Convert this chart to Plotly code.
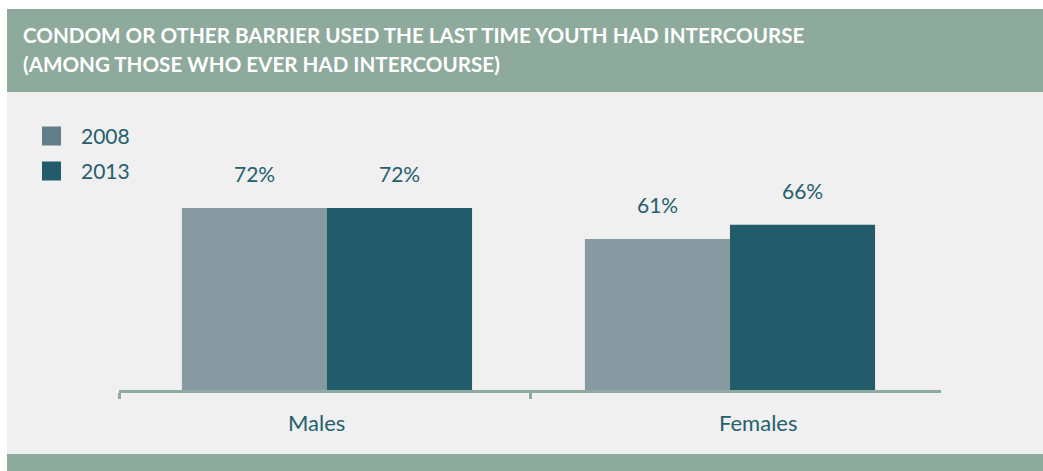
import plotly.graph_objects as go

# ---- data ----
categories = ["Males", "Females"]
series_names = ["2008", "2013"]
values_2008 = [72, 61]
values_2013 = [72, 66]
title_line1 = "CONDOM OR OTHER BARRIER USED THE LAST TIME YOUTH HAD INTERCOURSE"
title_line2 = "(AMONG THOSE WHO EVER HAD INTERCOURSE)"

# ---- style ----
W, H = 1043, 471
C08 = "#8799a1"
C08_LEG = "#637d88"
C13 = "#225c6a"
TXT = "#25606e"
GREEN = "#8eaa9d"
PANEL = "#f0f0f0"
AXIS = "#8fab9f"
FONT = "Lato"


def px_x(p):
    return p / W


def px_y(p):
    return 1 - p / H


fig = go.Figure()
fig.add_trace(go.Bar(x=categories, y=values_2008, name=series_names[0], xaxis="x2",
                     marker=dict(color=C08, line=dict(width=0)), showlegend=False))
fig.add_trace(go.Bar(x=categories, y=values_2013, name=series_names[1], xaxis="x2",
                     marker=dict(color=C13, line=dict(width=0)), showlegend=False))
# invisible trace to carry the visible category axis
fig.add_trace(go.Scatter(x=categories, y=[None, None], xaxis="x", mode="markers",
                         showlegend=False, hoverinfo="skip"))

shapes = [
    # header band
    dict(type="rect", xref="paper", yref="paper", x0=px_x(7), x1=px_x(1045),
         y0=px_y(92), y1=px_y(9), fillcolor=GREEN, line=dict(width=0), layer="below"),
    # panel
    dict(type="rect", xref="paper", yref="paper", x0=px_x(7), x1=px_x(1045),
         y0=px_y(454), y1=px_y(92), fillcolor=PANEL, line=dict(width=0), layer="below"),
    # bottom band
    dict(type="rect", xref="paper", yref="paper", x0=px_x(7), x1=px_x(1045),
         y0=px_y(473), y1=px_y(454), fillcolor=GREEN, line=dict(width=0), layer="below"),
]

annotations = [
    dict(text=f"<b>{title_line1}</b>", xref="paper", yref="paper", x=px_x(21), y=px_y(35),
         xanchor="left", yanchor="middle", showarrow=False,
         font=dict(family=FONT, size=20.6, color="white")),
    dict(text=f"<b>{title_line2}</b>", xref="paper", yref="paper", x=px_x(21), y=px_y(64),
         xanchor="left", yanchor="middle", showarrow=False,
         font=dict(family=FONT, size=20.6, color="white")),
]

# legend (manual)
leg_colors = [C08_LEG, C13]
for i, (nm, col) in enumerate(zip(series_names, leg_colors)):
    cy = 136 + 35 * i
    shapes.append(dict(type="rect", xref="paper", yref="paper",
                       x0=px_x(42), x1=px_x(61), y0=px_y(cy + 9.5), y1=px_y(cy - 9.5),
                       fillcolor=col, line=dict(width=0)))
    annotations.append(dict(text=nm, xref="paper", yref="paper", x=px_x(79), y=px_y(cy),
                            xanchor="left", yanchor="middle", showarrow=False,
                            font=dict(family=FONT, size=21, color=TXT)))

# data labels
bar_half_px = 72.5
for vals, sh in ((values_2008, -bar_half_px), (values_2013, bar_half_px)):
    for c, v in zip(categories, vals):
        annotations.append(dict(text=f"{v}%", x=c, y=v, xref="x2", yref="y",
                                xshift=sh, yshift=34, yanchor="middle", showarrow=False,
                                font=dict(family=FONT, size=21, color=TXT)))

# category labels
cat_shift = [-8, 22]
for c, s in zip(categories, cat_shift):
    annotations.append(dict(text=c, x=c, y=px_y(422), xref="x", yref="paper",
                            xshift=s, yanchor="middle", showarrow=False,
                            font=dict(family=FONT, size=22, color=TXT)))

XDOM = [px_x(119), px_x(941)]
fig.update_layout(
    width=W, height=H,
    margin=dict(l=0, r=0, t=0, b=0),
    paper_bgcolor="white",
    plot_bgcolor="rgba(0,0,0,0)",
    barmode="group",
    bargap=0.28,
    bargroupgap=0,
    showlegend=False,
    shapes=shapes,
    annotations=annotations,
    xaxis=dict(domain=XDOM, showline=True, linecolor=AXIS, linewidth=3,
               ticks="outside", tickson="boundaries", ticklen=6, tickwidth=3, tickcolor=AXIS,
               showticklabels=False, showgrid=False, zeroline=False, automargin=False,
               range=[-0.5, 1.5], categoryorder="array", categoryarray=categories),
    xaxis2=dict(domain=XDOM, overlaying="x", anchor="y", visible=False,
                range=[-0.5161, 1.5236], categoryorder="array", categoryarray=categories,
                showgrid=False, zeroline=False, automargin=False),
    yaxis=dict(domain=[px_y(390), px_y(100)], range=[7.4, 110.3], visible=False,
               showgrid=False, zeroline=False, automargin=False),
    font=dict(family=FONT, color=TXT),
)

fig.write_html(
    "out.html",
    config={"displayModeBar": False},
    post_script="document.body.style.margin='0';document.body.style.overflow='hidden';",
)
